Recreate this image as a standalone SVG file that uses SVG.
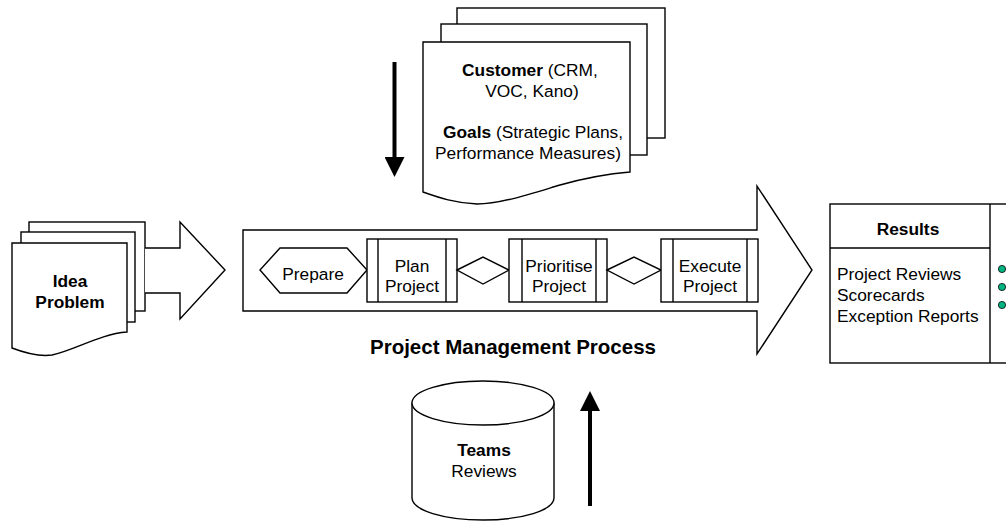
<svg xmlns="http://www.w3.org/2000/svg" width="1006" height="522" viewBox="0 0 1006 522">
<defs>
<style>
.s{fill:#fff;stroke:#000;stroke-width:1.4;stroke-linejoin:miter}
.t{font-family:"Liberation Sans",Arial,sans-serif;font-size:17.33px;fill:#000;text-anchor:middle}
.l{text-anchor:start}
.b{font-weight:bold}
.ln{fill:none;stroke:#000;stroke-width:1.4}
.dot{fill:#00b383;stroke:#000;stroke-width:0.8}
.arr{fill:none;stroke:#000;stroke-width:4}
</style>
<marker id="head" markerUnits="userSpaceOnUse" markerWidth="21" markerHeight="20" refX="0" refY="10" orient="auto" viewBox="0 0 21 20">
<path d="M0,0 L20,10 L0,20 z" fill="#000"/>
</marker>
</defs>
<rect width="1006" height="522" fill="#fff"/>

<g id="idea">
<rect class="s" x="29" y="222" width="116" height="89"/>
<rect class="s" x="21" y="232" width="114" height="90"/>
<path class="s" d="M12,243 L127,243 L127,332 C100,334 75,350 52,355 C38,357 25,353 12,348 Z"/>
<text class="t b" x="70" y="287">Idea</text>
<text class="t b" x="70" y="308">Problem</text>
</g>

<g id="idea-arrow">
<path class="s" d="M145,248 L180,248 L180,222 L225,270 L180,319 L180,293 L145,293"/>
</g>

<g id="customer">
<rect class="s" x="457" y="8" width="208" height="130"/>
<rect class="s" x="441" y="24" width="206" height="131"/>
<path class="s" d="M423,42 L630,42 L630,172 C605,174 585,178 560,185 C530,194 500,204 477,204 C455,203 440,198 423,192 Z"/>
<text class="t" x="530" y="76"><tspan class="b">Customer</tspan> (CRM,</text>
<text class="t" x="532" y="97">VOC, Kano)</text>
<text class="t" x="533" y="138"><tspan class="b">Goals</tspan> (Strategic Plans,</text>
<text class="t" x="528" y="159">Performance Measures)</text>
</g>

<g id="process">
<path class="s" d="M243,230 L757,230 L757,186 L812,270 L757,354 L757,311 L243,311 Z"/>
<text class="t b" x="513" y="354" style="font-size:20.5px">Project Management Process</text>
</g>

<g id="prepare">
<path class="s" d="M260,270 L280,248 L347,248 L367,270 L347,293 L280,293 Z"/>
<text class="t" x="313" y="280">Prepare</text>
</g>

<g id="plan">
<rect class="s" x="367" y="239" width="90" height="63"/>
<line class="ln" x1="378" y1="239" x2="378" y2="302"/>
<line class="ln" x1="446" y1="239" x2="446" y2="302"/>
<text class="t" x="412" y="272">Plan</text>
<text class="t" x="412" y="292">Project</text>
</g>

<g id="decision1">
<path class="s" d="M457,270 L483,257 L509,270 L483,284 Z"/>
</g>

<g id="prioritise">
<rect class="s" x="509" y="239" width="98" height="63"/>
<line class="ln" x1="522" y1="239" x2="522" y2="302"/>
<line class="ln" x1="596" y1="239" x2="596" y2="302"/>
<text class="t" x="559" y="272">Prioritise</text>
<text class="t" x="559" y="292">Project</text>
</g>

<g id="decision2">
<path class="s" d="M607,270 L634,257 L661,270 L634,284 Z"/>
</g>

<g id="execute">
<rect class="s" x="661" y="239" width="97" height="63"/>
<line class="ln" x1="673" y1="239" x2="673" y2="302"/>
<line class="ln" x1="747" y1="239" x2="747" y2="302"/>
<text class="t" x="710" y="272">Execute</text>
<text class="t" x="710" y="292">Project</text>
</g>

<g id="results">
<rect class="s" x="830" y="204" width="190" height="159"/>
<line class="ln" x1="830" y1="248" x2="990" y2="248"/>
<line class="ln" x1="990" y1="204" x2="990" y2="363"/>
<text class="t b" x="908" y="235">Results</text>
<text class="t l" x="837" y="280">Project Reviews</text>
<text class="t l" x="837" y="301">Scorecards</text>
<text class="t l" x="837" y="322">Exception Reports</text>
<circle class="dot" cx="1002" cy="269" r="3.6"/>
<circle class="dot" cx="1002" cy="287" r="3.6"/>
<circle class="dot" cx="1002" cy="305" r="3.6"/>
</g>

<g id="teams">
<path class="s" d="M412,403 L412,498 A71,22 0 0 0 554,498 L554,403"/>
<ellipse class="s" cx="483" cy="403" rx="71" ry="22"/>
<text class="t b" x="484" y="456">Teams</text>
<text class="t" x="484" y="477">Reviews</text>
</g>

<g id="connectors">
<line class="arr" x1="394.5" y1="62" x2="394.5" y2="157" marker-end="url(#head)"/>
<line class="arr" x1="590" y1="506" x2="590" y2="411" marker-end="url(#head)"/>
</g>
</svg>
